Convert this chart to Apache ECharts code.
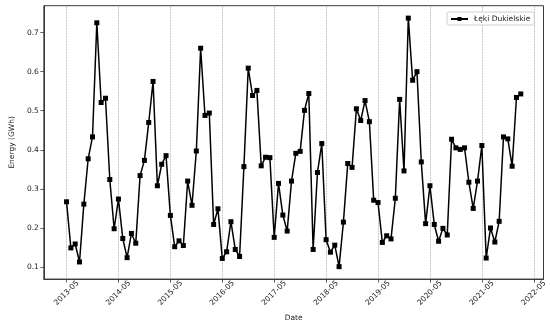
<!DOCTYPE html>
<html>
<head>
<meta charset="utf-8">
<script src="https://cdn.jsdelivr.net/npm/echarts@6/dist/echarts.min.js"></script>
<style>html,body{margin:0;padding:0;background:#fff}#c{width:550px;height:327px}</style>
</head>
<body>
<div id="c"></div>
<script>
// Monthly series, first month 2013-05
const startMonth = '2013-05';
const energy = [
  0.267, 0.149, 0.159, 0.113, 0.261, 0.377, 0.433, 0.725, 0.521, 0.532, 0.324, 0.198,
  0.274, 0.173, 0.124, 0.186, 0.161, 0.334, 0.373, 0.470, 0.575, 0.308, 0.363, 0.385,
  0.232, 0.152, 0.167, 0.155, 0.320, 0.258, 0.397, 0.660, 0.488, 0.494, 0.209, 0.249,
  0.122, 0.139, 0.216, 0.145, 0.127, 0.357, 0.609, 0.539, 0.552, 0.359, 0.381, 0.380,
  0.176, 0.314, 0.233, 0.192, 0.320, 0.391, 0.396, 0.501, 0.544, 0.145, 0.342, 0.416,
  0.170, 0.138, 0.156, 0.101, 0.215, 0.365, 0.355, 0.505, 0.475, 0.526, 0.472, 0.271,
  0.265, 0.163, 0.180, 0.172, 0.276, 0.529, 0.346, 0.737, 0.578, 0.600, 0.369, 0.211,
  0.308, 0.209, 0.166, 0.199, 0.182, 0.427, 0.405, 0.401, 0.405, 0.317, 0.250, 0.320,
  0.411, 0.123, 0.200, 0.164, 0.217, 0.433, 0.428, 0.358, 0.534, 0.543
];
const xTickLabels = ['2013-05','2014-05','2015-05','2016-05','2017-05','2018-05','2019-05','2020-05','2021-05','2022-05'];
const yTicks = [0.1, 0.2, 0.3, 0.4, 0.5, 0.6, 0.7];
const seriesName = 'Łęki Dukielskie';

function monthIndex(s) {
  const [y0, m0] = startMonth.split('-').map(Number);
  const [y, m] = s.split('-').map(Number);
  return (y - y0) * 12 + (m - m0);
}
const xTickIdx = xTickLabels.map(monthIndex);
const idxToLabel = {};
xTickLabels.forEach((l, i) => { idxToLabel[xTickIdx[i]] = l; });

const points = energy.map((v, i) => [i, v]);
const n = energy.length;
const xPad = (n - 1) * 0.05;
const yMinV = Math.min(...energy), yMaxV = Math.max(...energy);
const yPad = (yMaxV - yMinV) * 0.05;

const font = 'DejaVu Sans';
const chart = echarts.init(document.getElementById('c'), null, {renderer: 'canvas'});
chart.setOption({
  animation: false,
  backgroundColor: '#fff',
  textStyle: {fontFamily: font},
  grid: {left: 33.5, right: 6.5, top: 5.7, bottom: 43.3, show: true, borderColor: '#3a3a3a', borderWidth: 1, backgroundColor: 'transparent'},
  legend: {
    show: true,
    left: 447, top: 12,
    padding: [3, 4, 2, 3],
    itemWidth: 17, itemHeight: 5,
    borderColor: '#d0d0d0', borderWidth: 1, borderRadius: 2,
    backgroundColor: '#fff',
    textStyle: {fontFamily: font, fontSize: 7.5, color: '#222', padding: [0, 0, 0, 1]},
    data: [seriesName]
  },
  xAxis: {
    type: 'value',
    min: -xPad, max: (n - 1) + xPad,
    name: 'Date', nameLocation: 'middle', nameGap: 32,
    nameTextStyle: {fontFamily: font, fontSize: 7.5, color: '#222'},
    axisLine: {show: true, onZero: false, lineStyle: {color: '#3a3a3a', width: 1}},
    axisTick: {show: true, customValues: xTickIdx, length: 3.5, lineStyle: {color: '#3a3a3a', width: 0.8}},
    axisLabel: {
      customValues: xTickIdx, rotate: 45, align: 'center', verticalAlign: 'middle', margin: 14,
      fontFamily: font, fontSize: 7.5, color: '#222',
      formatter: v => idxToLabel[Math.round(v)] || ''
    },
    splitLine: {show: true, lineStyle: {color: '#9a9a9a', width: 0.8, type: 'dotted'}}
  },
  yAxis: {
    type: 'value',
    min: yMinV - yPad, max: yMaxV + yPad,
    name: 'Energy (GWh)', nameLocation: 'middle', nameGap: 21, nameRotate: 90,
    nameTextStyle: {fontFamily: font, fontSize: 7.5, color: '#222'},
    axisLine: {show: true, onZero: false, lineStyle: {color: '#3a3a3a', width: 1}},
    axisTick: {show: true, customValues: yTicks, length: 3.5, lineStyle: {color: '#3a3a3a', width: 0.8}},
    axisLabel: {customValues: yTicks, margin: 5, fontFamily: font, fontSize: 7.5, color: '#222',
      formatter: v => (Math.round(v * 10) / 10).toFixed(1)},
    splitLine: {show: false}
  },
  series: [{
    name: seriesName,
    type: 'line',
    data: points,
    symbol: 'rect',
    symbolSize: 5,
    showAllSymbol: true,
    lineStyle: {color: '#000', width: 1.5},
    itemStyle: {color: '#000'},
    emphasis: {disabled: true}
  }]
});
</script>
</body>
</html>
